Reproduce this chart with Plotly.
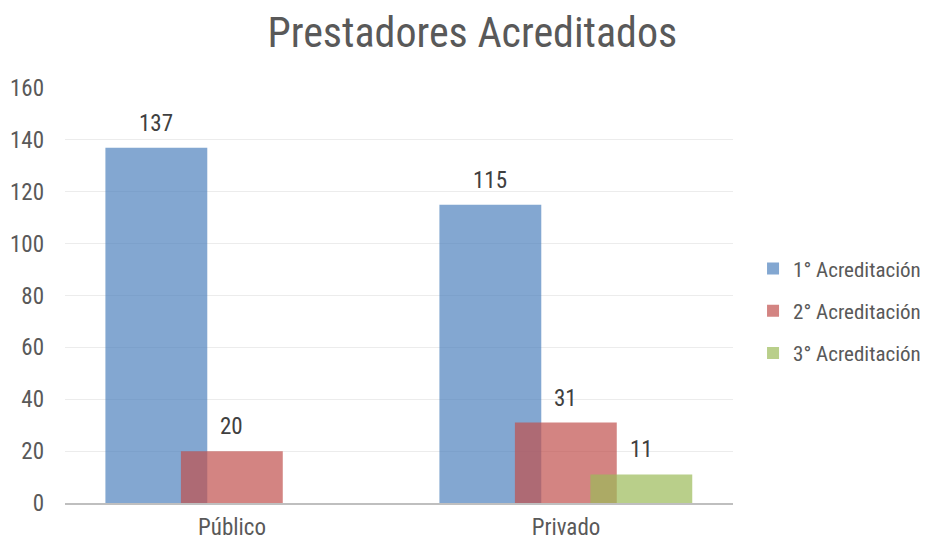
import plotly.graph_objects as go

categories = ["Público", "Privado"]
series_names = ["1° Acreditación", "2° Acreditación", "3° Acreditación"]
values_1 = [137, 115]
values_2 = [20, 31]
values_3 = [None, 11]
y_ticks = [0, 20, 40, 60, 80, 100, 120, 140, 160]

colors = ["rgba(79,129,189,0.7)", "rgba(192,80,77,0.7)", "rgba(155,187,89,0.7)"]
offsets = [-0.379, -0.153, 0.073]
bar_w = 0.305
FONT = "Roboto Condensed, Liberation Sans Narrow, Arial Narrow, Liberation Sans, Arial, sans-serif"
FS = 23

fig = go.Figure()
annotations = []
for k, (name, vals, col, off) in enumerate(zip(series_names, [values_1, values_2, values_3], colors, offsets)):
    fig.add_trace(go.Bar(
        x=categories, y=vals, name=name, legendgroup=f"g{k}",
        marker=dict(color=col, line=dict(width=0)),
        width=bar_w, offset=off,
    ))
    for i, v in enumerate(vals):
        if v is None:
            continue
        annotations.append(dict(
            x=i + off + bar_w / 2, y=v, xref="x", yref="y",
            text=str(v), showarrow=False, yanchor="bottom", xanchor="center",
            yshift=9, font=dict(size=FS, color="#404040", family=FONT),
        ))

fig.update_layout(
    barmode="overlay",
    width=928, height=542,
    margin=dict(l=65, r=195, t=88, b=39, autoexpand=False),
    paper_bgcolor="white", plot_bgcolor="white",
    font=dict(family=FONT, size=FS, color="#595959"),
    title=dict(text="Prestadores Acreditados", x=0.509, xref="container", xanchor="center",
               y=0.94, yanchor="middle",
               font=dict(size=42, color="#595959", family=FONT)),
    xaxis=dict(showgrid=False, showline=True, linecolor="#bfbfbf", linewidth=2,
               ticks="", tickfont=dict(size=FS, color="#595959"), range=[-0.5, 1.5],
               ticklabelstandoff=2, automargin=False),
    yaxis=dict(range=[0, 160], tickvals=y_ticks, showgrid=True, gridcolor="#ececec",
               gridwidth=1, zeroline=False, showline=False, ticks="",
               ticklabelstandoff=20, tickfont=dict(size=FS, color="#595959"),
               automargin=False),
    legend=dict(x=1.03, xanchor="left", y=0.463, yanchor="middle",
                font=dict(size=21, color="#595959"), tracegroupgap=12,
                itemwidth=30, traceorder="grouped", bgcolor="rgba(0,0,0,0)"),
    annotations=annotations,
    showlegend=True,
)

fig.write_html("out.html", config={"displayModeBar": False},
               post_script="document.body.style.margin='0';")
